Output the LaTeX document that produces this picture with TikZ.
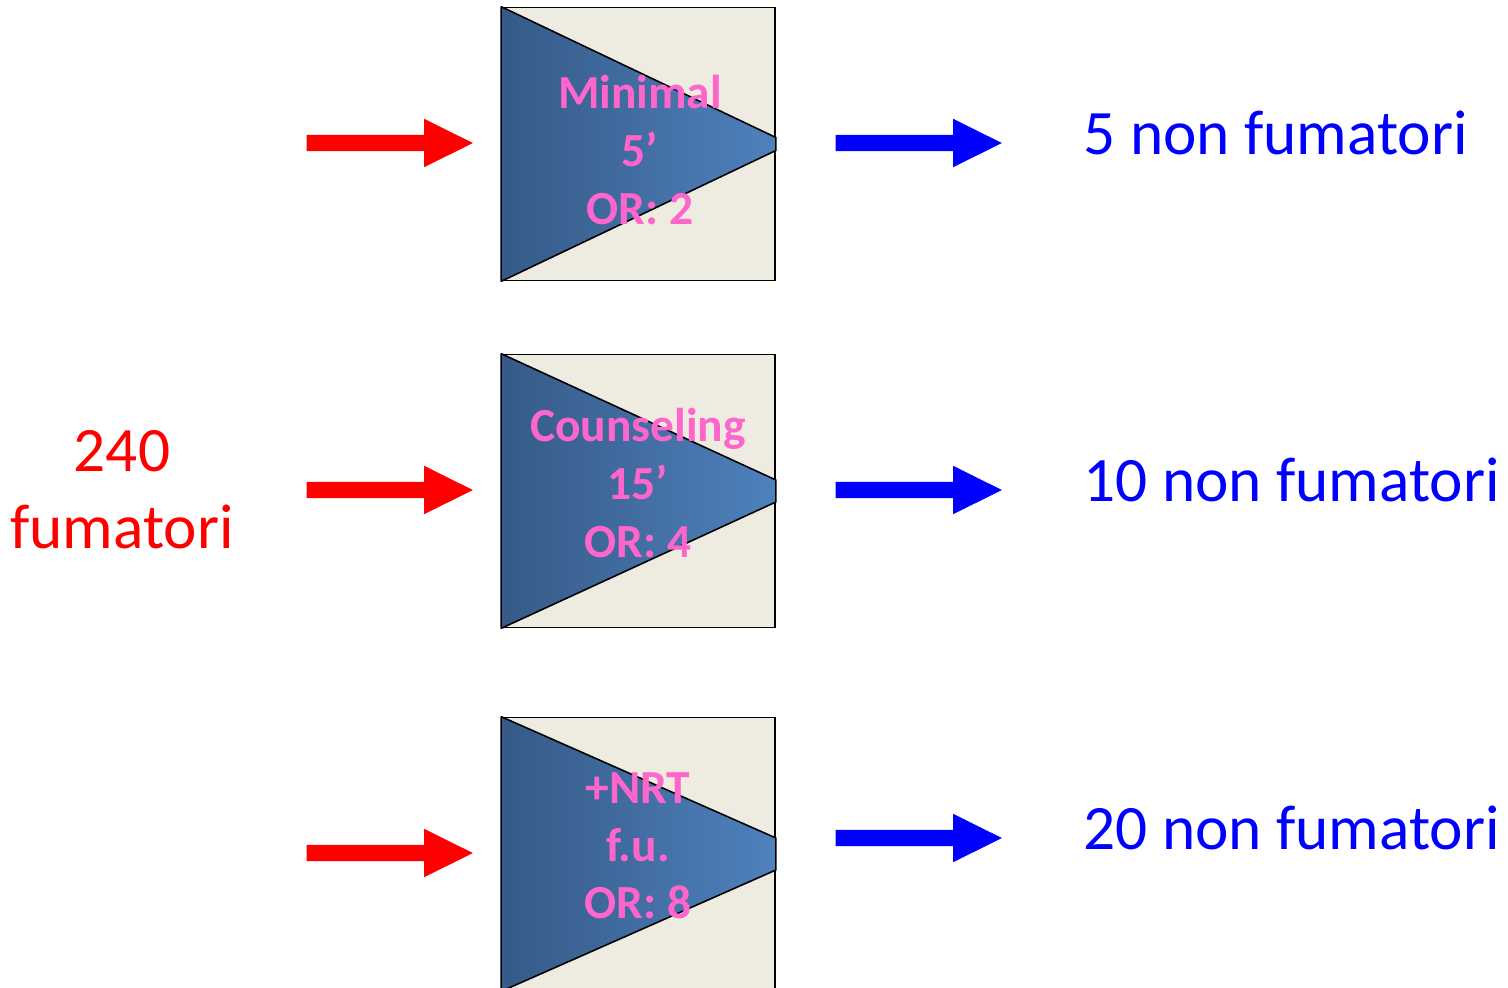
\documentclass[tikz,border=0pt]{standalone}
\usepackage{fontspec}
\setmainfont{Carlito}
\usetikzlibrary{shapes.arrows}
\definecolor{boxbeige}{HTML}{EEEBE0}
\definecolor{triDark}{HTML}{355A87}
\definecolor{triLight}{HTML}{4F81BD}
\definecolor{labelPink}{HTML}{FF66CC}
\begin{document}
\begin{tikzpicture}[
    x=0.01cm, y=-0.01cm,
    stepbox/.style={rectangle, draw=black, line width=0.45pt, fill=boxbeige, minimum size=2.73cm, inner sep=0pt},
    wedge/.style={left color=triDark, right color=triLight, draw=black, line width=0.45pt, line join=bevel},
    blockarrow/.style={single arrow, draw=none, anchor=tail, minimum height=1.66cm, inner xsep=0pt, inner ysep=0.075cm,
        single arrow head extend=0.16cm, single arrow tip angle=53},
    steptext/.style={text=labelPink, font=\bfseries\fontsize{13.5}{16.4}\selectfont, align=center, inner sep=0pt},
    outtext/.style={text=blue, font=\fontsize{18}{21.9}\selectfont, anchor=base west, inner sep=0pt}
]
\useasboundingbox (0,0) rectangle (1508,987);

% Define boxes
\node[stepbox] (b1) at (638.5,144) {};
\node[stepbox] (b2) at (638.5,491) {};
\node[stepbox] (b3) at (638.5,854) {};

% Define wedges
\shadedraw[wedge] (b1.north west) -- ([yshift=0.065cm]b1.east) -- ([yshift=-0.065cm]b1.east) -- (b1.south west) -- cycle;
\shadedraw[wedge] (b2.north west) -- ([yshift=0.11cm]b2.east) -- ([yshift=-0.11cm]b2.east) -- (b2.south west) -- cycle;
\shadedraw[wedge] (b3.north west) -- ([yshift=0.16cm]b3.east) -- ([yshift=-0.16cm]b3.east) -- (b3.south west) -- cycle;

% Define box labels
\node[steptext] (t1) at (640,150) {Minimal\\5’\\OR: 2};
\node[steptext] (t2) at (638,483) {Counseling\\15’\\OR: 4};
\node[steptext] (t3) at (638,846) {+NRT\\f.u.\\OR: 8};

% Define arrows
\node[blockarrow, fill=red] (in1) at (306,143) {};
\node[blockarrow, fill=red] (in2) at (306,490) {};
\node[blockarrow, fill=red] (in3) at (306,853) {};
\node[blockarrow, fill=blue] (out1) at (835,143) {};
\node[blockarrow, fill=blue] (out2) at (835,490) {};
\node[blockarrow, fill=blue] (out3) at (835,838) {};

% Define counts
\node[text=red, font=\fontsize{18}{21.9}\selectfont, align=center, inner sep=0pt] (smokers) at (122,490) {240\\fumatori};
\node[outtext] (r1) at (1083,154) {5 non fumatori};
\node[outtext] (r2) at (1083,501) {10 non fumatori};
\node[outtext] (r3) at (1083,849) {20 non fumatori};

\end{tikzpicture}
\end{document}
